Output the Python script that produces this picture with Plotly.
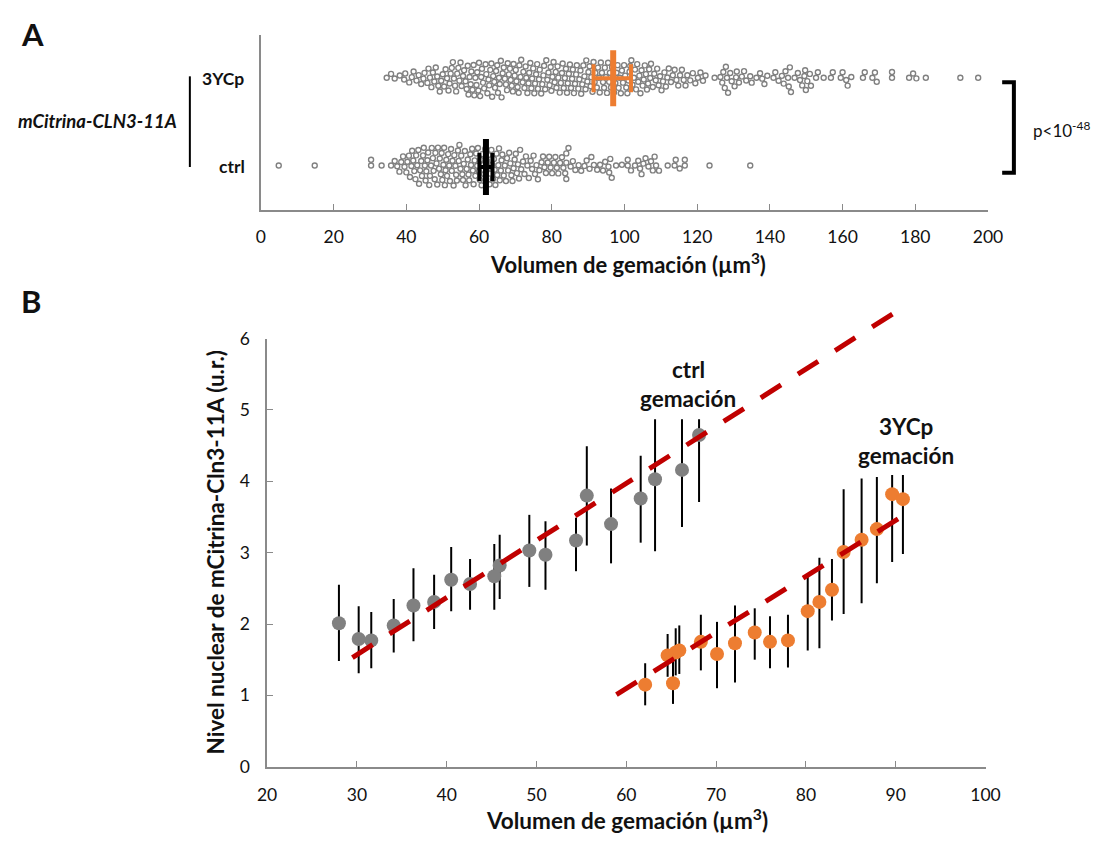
import math
import plotly.graph_objects as go

W, H = 1111, 843
FONT = "Lato"
GRAY_AXIS = "#8a8a8a"
ORANGE = "#ED7D31"
GRAY_PT = "#808080"
RED = "#C00000"

# ---------------- Panel A data ----------------
cats_a = ["3YCp", "ctrl"]
vol_3ycp = [
    34.6, 35.8, 36.8, 38.2, 39.4, 39.7, 40.8,
    41.5, 42.0, 42.8, 43.4, 44.1, 44.7, 45.0, 45.8, 46.1,
    46.5, 46.9, 47.3, 47.7, 48.1, 48.5, 48.8, 49.2, 49.6, 50.0, 50.4, 50.8, 51.2,
    51.6, 51.9, 52.2, 52.5, 52.8, 53.1, 53.4, 53.7, 54.0, 54.3, 54.6, 54.9, 55.2, 55.6, 55.9, 56.3,
    56.6, 56.9, 57.1, 57.4, 57.7, 57.9, 58.2, 58.5, 58.7, 59.0, 59.3, 59.5, 59.8, 60.0, 60.3, 60.6, 60.8, 61.1, 61.4,
    61.8, 62.0, 62.3, 62.6, 62.8, 63.1, 63.4, 63.6, 63.9, 64.2, 64.4, 64.7, 65.0, 65.2, 65.5, 65.7, 66.0, 66.2, 66.5,
    66.8, 67.1, 67.4, 67.7, 67.9, 68.2, 68.5, 68.7, 69.0, 69.3, 69.5, 69.8, 70.1, 70.3, 70.6, 70.9, 71.1, 71.4, 71.6,
    72.0, 72.2, 72.5, 72.8, 73.0, 73.3, 73.6, 73.8, 74.1, 74.4, 74.6, 74.9, 75.2, 75.4, 75.7, 76.0, 76.2, 76.5, 76.7,
    77.1, 77.4, 77.7, 77.9, 78.2, 78.5, 78.8, 79.1, 79.4, 79.7, 79.9, 80.2, 80.5, 80.8, 81.1, 81.3, 81.6, 81.8,
    82.2, 82.5, 82.8, 83.0, 83.3, 83.6, 83.9, 84.2, 84.4, 84.7, 85.0, 85.3, 85.6, 85.8, 86.1, 86.4, 86.7, 86.9,
    87.3, 87.6, 87.9, 88.1, 88.4, 88.7, 89.0, 89.3, 89.5, 89.8, 90.1, 90.4, 90.7, 90.9, 91.2, 91.5, 91.8, 92.0,
    92.4, 92.7, 93.0, 93.2, 93.5, 93.8, 94.1, 94.4, 94.6, 94.9, 95.2, 95.5, 95.8, 96.0, 96.3, 96.6, 96.9, 97.1,
    97.5, 97.8, 98.1, 98.4, 98.7, 99.0, 99.3, 99.6, 99.9, 100.2, 100.5, 100.8, 101.1, 101.4, 101.6, 101.9, 102.2,
    102.6, 102.9, 103.2, 103.5, 103.8, 104.1, 104.4, 104.7, 105.0, 105.3, 105.6, 105.9, 106.2, 106.5, 106.8, 107.1, 107.3,
    107.8, 108.2, 108.6, 109.0, 109.4, 109.8, 110.2, 110.6, 111.0, 111.4, 111.8, 112.2,
    112.8, 113.3, 113.8, 114.3, 114.8, 115.3, 115.8, 116.3, 116.8, 117.3,
    118.1, 118.8, 119.5, 120.2, 120.9, 121.6, 122.3,
    124.8, 126.4, 126.9, 127.2, 127.6, 127.9, 128.2, 128.5, 129.1, 129.5,
    130.3, 130.7, 130.9, 131.5, 132.3, 132.9, 133.5, 134.6, 135.0, 136.3, 137.3,
    137.9, 138.5, 139.3, 141.0, 141.5, 142.4,
    143.3, 143.8, 144.3, 145.0, 145.2, 145.5, 145.8, 146.8, 147.7,
    148.3, 148.9, 149.5, 149.7, 149.9, 150.3, 151.0, 151.3, 152.7, 153.2,
    154.8, 156.8, 157.3, 159.5, 160.0, 161.0, 161.4, 162.4,
    165.6, 166.1, 168.2, 168.9, 169.4, 173.6, 173.6,
    178.3, 179.4, 180.3, 182.9, 192.4, 197.3,
]
vol_ctrl = [
    4.9, 14.8, 30.3, 30.3, 33.2, 35.8,
    36.8, 37.5, 38.1, 38.6, 39.1, 39.5, 40.0, 40.3, 40.7, 41.0,
    41.4, 41.6, 41.9, 42.2, 42.5, 42.7, 43.0, 43.3, 43.5, 43.8, 44.1, 44.3, 44.6, 44.8, 45.1, 45.3, 45.5, 45.8, 46.0, 46.3,
    46.5, 46.8, 47.0, 47.3, 47.5, 47.8, 48.0, 48.3, 48.5, 48.7, 49.0, 49.2, 49.5, 49.7, 49.9, 50.2, 50.4, 50.6, 50.8, 51.0, 51.2,
    51.5, 51.8, 52.0, 52.3, 52.5, 52.7, 53.0, 53.2, 53.5, 53.7, 53.9, 54.2, 54.4, 54.6, 54.9, 55.1, 55.4, 55.6, 55.8, 56.1, 56.3,
    56.6, 56.9, 57.1, 57.3, 57.6, 57.8, 58.1, 58.3, 58.5, 58.8, 59.0, 59.2, 59.5, 59.7, 60.0, 60.2, 60.4, 60.7, 60.9, 61.1, 61.4,
    61.7, 61.9, 62.2, 62.4, 62.6, 62.9, 63.1, 63.4, 63.6, 63.8, 64.1, 64.3, 64.5, 64.8, 65.0, 65.3, 65.5, 65.7, 66.0, 66.2, 66.4,
    66.8, 67.1, 67.4, 67.7, 68.0, 68.3, 68.6, 68.9, 69.2, 69.5, 69.8, 70.1, 70.4, 70.7, 71.0, 71.3, 71.6,
    72.1, 72.5, 72.9, 73.3, 73.7, 74.2, 74.6, 75.0, 75.4, 75.8, 76.2, 76.6,
    77.2, 77.6, 78.0, 78.4, 78.9, 79.3, 79.7, 80.1, 80.6, 81.0, 81.4, 81.8,
    82.3, 82.8, 83.2, 83.7, 84.0, 84.0, 84.0, 84.6, 85.2, 85.8, 86.5,
    87.4, 88.1, 89.0, 89.6, 90.4, 90.9, 91.6,
    92.5, 93.3, 94.1, 94.7, 95.6, 95.8, 96.1, 96.5,
    97.7, 99.3, 100.9, 100.9, 101.8,
    102.9, 103.8, 104.3, 104.7, 105.2, 105.8, 106.6, 107.3,
    107.8, 108.3, 108.7, 109.5, 111.9,
    113.8, 114.1, 115.2, 116.6, 116.6,
    123.4, 134.6,
]
mean_a = [96.9, 61.9]
ci_lo_a = [91.5, 60.1]
ci_hi_a = [101.8, 63.7]
p_text = "p<10<sup>-48</sup>"

# ---------------- Panel B data ----------------
ctrl_x = [28.0, 30.2, 31.6, 34.1, 36.3, 38.6, 40.5, 42.6, 45.3, 45.9, 49.2, 51.0, 54.4, 55.6, 58.3, 61.6, 63.2, 66.2, 68.1]
ctrl_y = [2.01, 1.79, 1.77, 1.98, 2.26, 2.31, 2.62, 2.56, 2.67, 2.82, 3.03, 2.97, 3.17, 3.80, 3.40, 3.76, 4.03, 4.16, 4.65]
ctrl_hi = [2.55, 2.25, 2.17, 2.35, 2.78, 2.69, 3.08, 2.91, 3.12, 3.25, 3.53, 3.44, 3.49, 4.49, 3.90, 4.36, 4.87, 4.87, 4.87]
ctrl_lo = [1.48, 1.31, 1.38, 1.60, 1.76, 1.93, 2.18, 2.20, 2.20, 2.35, 2.52, 2.48, 2.74, 3.10, 2.85, 3.14, 3.02, 3.36, 3.71]

y3_x = [62.1, 64.6, 65.2, 65.5, 65.9, 68.3, 70.1, 72.1, 74.3, 76.0, 78.0, 80.2, 81.5, 82.9, 84.2, 86.2, 87.9, 89.6, 90.8]
y3_y = [1.15, 1.56, 1.17, 1.60, 1.63, 1.75, 1.58, 1.73, 1.88, 1.75, 1.77, 2.18, 2.31, 2.48, 3.01, 3.18, 3.33, 3.82, 3.75]
y3_hi = [1.45, 1.86, 1.56, 1.94, 1.98, 2.13, 2.03, 2.26, 2.22, 2.11, 2.13, 2.66, 2.93, 2.91, 3.89, 4.04, 4.06, 4.09, 4.09]
y3_lo = [0.86, 1.26, 0.88, 1.28, 1.30, 1.35, 1.10, 1.18, 1.50, 1.38, 1.39, 1.63, 1.66, 2.05, 2.14, 2.29, 2.57, 2.87, 2.98]

trend_ctrl_x = [29.5, 90.7]
trend_ctrl_y = [1.53, 6.43]
trend_y3_x = [58.9, 91.6]
trend_y3_y = [1.01, 3.58]

xticks_a = list(range(0, 201, 20))
xticks_b = list(range(20, 101, 10))
yticks_b = list(range(0, 7))

# ---------------- geometry (window pixels) ----------------
A_X0, A_X1, A_Y0, A_Y1 = 256.7, 1000.5, 25, 204
B_X0, B_X1, B_Y0, B_Y1 = 263, 998, 336, 775
B_TOP_EXT = 290  # overlay area so that trend lines may rise above the y=6 top
A_RANGE_Y = A_Y1 - A_Y0  # y axis of panel A works in pixel units
CENTER_A = {"3YCp": 135.5, "ctrl": 45.5}


def px(x):
    return x / W


def py(y):
    return 1 - y / H


def beeswarm(values, sx, d):
    order = sorted(range(len(values)), key=lambda i: values[i])
    placed = []
    offs = [0.0] * len(values)
    for i in order:
        x = values[i] * sx
        near = [(qx, qy) for (qx, qy) in placed if abs(qx - x) < d]
        cands = [0.0]
        for qx, qy in near:
            dy = math.sqrt(max(d * d - (qx - x) ** 2, 0.0))
            cands += [qy + dy, qy - dy]
        cands.sort(key=lambda c: (abs(c), -c))
        for c in cands:
            if all((qx - x) ** 2 + (qy - c) ** 2 >= d * d - 1e-6 for qx, qy in near):
                offs[i] = c
                break
        placed.append((x, offs[i]))
    return offs


sx = (A_X1 - A_X0) / 200.0
fig = go.Figure()

for name, vals in (("3YCp", vol_3ycp), ("ctrl", vol_ctrl)):
    offs = beeswarm(vals, sx, 6.0)
    fig.add_trace(go.Scatter(
        x=vals, y=[CENTER_A[name] + o for o in offs], mode="markers",
        marker=dict(symbol="circle-open", size=5, color=GRAY_PT, line=dict(width=1.4, color=GRAY_PT)),
        xaxis="x", yaxis="y", showlegend=False, hoverinfo="x"))

mean_colors = [ORANGE, "#000000"]
mean_y = [135, 44]
for k, name in enumerate(cats_a):
    fig.add_trace(go.Scatter(
        x=[mean_a[k]], y=[mean_y[k]], mode="markers",
        marker=dict(symbol="line-ns", size=40, color=mean_colors[k], line=dict(width=6, color=mean_colors[k])),
        error_x=dict(type="data", symmetric=False, array=[ci_hi_a[k] - mean_a[k]],
                     arrayminus=[mean_a[k] - ci_lo_a[k]], color=mean_colors[k], thickness=4, width=14),
        xaxis="x", yaxis="y", showlegend=False))

# Panel B
for xs, ys, his, los, col in ((ctrl_x, ctrl_y, ctrl_hi, ctrl_lo, GRAY_PT), (y3_x, y3_y, y3_hi, y3_lo, ORANGE)):
    fig.add_trace(go.Scatter(
        x=xs, y=ys, mode="markers",
        marker=dict(symbol="circle", size=14, color=col),
        error_y=dict(type="data", symmetric=False,
                     array=[h - v for h, v in zip(his, ys)],
                     arrayminus=[v - l for l, v in zip(los, ys)],
                     color="#000000", thickness=2, width=0),
        xaxis="x2", yaxis="y2", showlegend=False))

for tx, ty in ((trend_ctrl_x, trend_ctrl_y), (trend_y3_x, trend_y3_y)):
    fig.add_trace(go.Scatter(
        x=tx, y=ty, mode="lines", line=dict(color=RED, width=5, dash="24px,20px"),
        xaxis="x3", yaxis="y3", showlegend=False, hoverinfo="skip"))

axis_common = dict(showgrid=False, zeroline=False, showline=True, linecolor=GRAY_AXIS, linewidth=1.5,
                   ticks="inside", tickcolor=GRAY_AXIS, ticklen=6, tickwidth=1.2,
                   tickfont=dict(family=FONT, size=17.5, color="#111111"))

b_per_px = 6.0 / (B_Y1 - B_Y0)
fig.update_layout(
    width=W, height=H, margin=dict(l=0, r=0, t=0, b=0),
    paper_bgcolor="white", plot_bgcolor="rgba(0,0,0,0)",
    font=dict(family=FONT, color="#111111"),
    xaxis=dict(domain=[px(A_X0), px(A_X1)], range=[0, 200], tickvals=xticks_a, anchor="y",
               ticklabelstandoff=10, **axis_common),
    yaxis=dict(domain=[py(A_Y1), py(A_Y0)], range=[0, A_RANGE_Y], anchor="x", showgrid=False,
               zeroline=False, showline=True, linecolor=GRAY_AXIS, linewidth=1.5, showticklabels=False, ticks=""),
    xaxis2=dict(domain=[px(B_X0), px(B_X1)], range=[20, 100], tickvals=xticks_b, anchor="y2",
                ticklabelstandoff=12, **axis_common),
    yaxis2=dict(domain=[py(B_Y1), py(B_Y0)], range=[0, 6], tickvals=yticks_b, anchor="x2",
                ticklabelstandoff=12, **axis_common),
    xaxis3=dict(domain=[px(B_X0), px(B_X1)], range=[20, 100], anchor="y3", visible=False),
    yaxis3=dict(domain=[py(B_Y1), py(B_TOP_EXT)], range=[0, (B_Y1 - B_TOP_EXT) * b_per_px],
                anchor="x3", visible=False),
)


def ann(text, x, y, size, xanchor="center", bold=False, italic=False, angle=0, color="#111111"):
    t = text
    if italic:
        t = "<i>" + t + "</i>"
    if bold:
        t = "<b>" + t + "</b>"
    fig.add_annotation(text=t, x=px(x), y=py(y), xref="paper", yref="paper", showarrow=False,
                       xanchor=xanchor, yanchor="middle", textangle=angle,
                       font=dict(family=FONT, size=size, color=color))


ann("A", 9, 24, 31, xanchor="left", bold=True)
ann("B", 9, 297, 31, xanchor="left", bold=True)
ann("mCitrina-CLN3-11A", 173, 113, 18.5, xanchor="right", bold=True, italic=True)
ann(cats_a[0], 241, 69, 17.5, xanchor="right", bold=True)
ann(cats_a[1], 242, 159, 17.5, xanchor="right", bold=True)
ann(p_text, 1045, 122, 17, xanchor="left")
ann("Volumen de gemación (µm<sup>3</sup>)", 632, 259, 22, bold=True)
ann("Volumen de gemación (µm<sup>3</sup>)", 631, 829, 22.5, bold=True)
ann("Nivel nuclear de mCitrina-Cln3-11A (u.r.)", 210, 555, 22.5, bold=True, angle=-90)
ann("ctrl", 694, 368, 22.5, bold=True)
ann("gemación", 694, 397, 22.5, bold=True)
ann("3YCp", 917, 426, 22.5, bold=True)
ann("gemación", 917, 456, 22.5, bold=True)

# vertical bar next to the genotype label and significance bracket
fig.add_shape(type="line", xref="paper", yref="paper", x0=px(184), x1=px(184), y0=py(67), y1=py(160),
              line=dict(color="#000000", width=2))
fig.add_shape(type="path", xref="paper", yref="paper",
              path=f"M {px(1015)} {py(73)} L {px(1027)} {py(73)} L {px(1027)} {py(166)} L {px(1015)} {py(166)}",
              line=dict(color="#000000", width=4))

fig.write_html("out.html")
